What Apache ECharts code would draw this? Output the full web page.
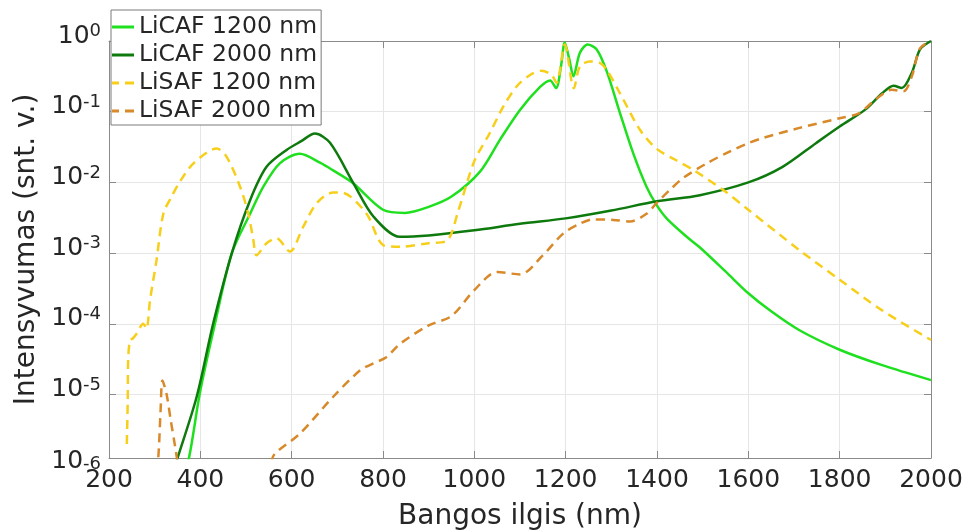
<!DOCTYPE html>
<html><head><meta charset="utf-8">
<script src="https://cdn.jsdelivr.net/npm/echarts@6/dist/echarts.min.js"></script>
<style>html,body{margin:0;padding:0;background:#fff}#c{width:968px;height:530px}</style>
</head><body><div id="c"></div>
<script>
// ---- data (wavelength nm, relative intensity) ----
const seriesNames = ['LiCAF 1200 nm', 'LiCAF 2000 nm', 'LiSAF 1200 nm', 'LiSAF 2000 nm'];

const licaf1200Wl = [360,375,399,432,469,509,538,574,618,662,690,734,800,848,900,950,1012,1056,1100,1144,1166,1179,1190,1198,1208,1217,1231,1248,1268,1290,1319,1348,1377,1399,1421,1465,1494,1550,1600,1650,1712,1800,1893,2000];
const licaf1200 = [7e-7,1.26e-6,1.05e-5,1e-4,1e-3,3.6e-3,8.7e-3,0.0186,0.0254,0.019,0.0149,0.0098,0.0041,0.0037,0.0045,0.0063,0.0141,0.040,0.106,0.224,0.277,0.216,0.45,0.955,0.55,0.316,0.676,0.891,0.759,0.372,0.0955,0.0257,0.0087,0.0048,0.0031,0.0017,0.0012,5.5e-4,2.7e-4,1.5e-4,8.1e-5,4.3e-5,2.6e-5,1.6e-5];

const licaf2000Wl = [340,350,392,428,469,509,545,589,620,651,684,735,779,837,900,1000,1100,1200,1300,1400,1494,1600,1675,1748,1800,1856,1893,1918,1936,1958,1976,2000];
const licaf2000 = [8e-7,1.26e-6,9.3e-6,1e-4,1e-3,5.6e-3,0.0166,0.0288,0.038,0.049,0.0363,0.0098,0.0033,0.0017,0.00178,0.0021,0.0026,0.0031,0.0040,0.0054,0.0066,0.010,0.0166,0.0359,0.0617,0.107,0.182,0.233,0.216,0.355,0.76,1.0];

const lisaf1200Wl = [239,241,242,246,252,260,275,282,290,304,319,337,355,385,436,457,487,505,516,523,545,567,596,625,655,691,713,764,801,837,900,940,965,1000,1034,1063,1093,1122,1147,1169,1180,1198,1218,1231,1253,1275,1290,1319,1363,1399,1440,1479,1545,1600,1712,1800,1893,2000];
const lisaf1200 = [2e-6,8e-6,3.1e-5,5.9e-5,6.2e-5,7.2e-5,1e-4,8.5e-5,2.2e-4,7.9e-4,3.6e-3,6.3e-3,0.0102,0.0186,0.0302,0.0234,0.0087,0.0036,0.00155,0.00093,0.00138,0.00162,0.00105,0.00234,0.0051,0.0072,0.0071,0.0036,0.00129,0.00123,0.00138,0.0015,0.004,0.02,0.05,0.117,0.229,0.331,0.38,0.331,0.257,0.89,0.214,0.437,0.513,0.49,0.389,0.182,0.055,0.030,0.0209,0.0151,0.0078,0.0041,0.0011,4.2e-4,1.55e-4,5.9e-5];

const lisaf2000Wl = [303,308,313,317,326,335,345,352,450,555,563,618,691,750,779,808,837,900,950,1000,1050,1100,1150,1195,1231,1260,1304,1341,1377,1399,1428,1457,1509,1560,1600,1633,1712,1800,1842,1878,1914,1940,1958,1976,2000];
const lisaf2000 = [8e-7,1.3e-6,6e-6,1.58e-5,1.02e-5,4.4e-6,1.8e-6,9e-7,null,1.1e-6,1.45e-6,2.8e-6,9.3e-6,2.2e-5,2.75e-5,3.4e-5,5.2e-5,9.5e-5,1.29e-4,3e-4,5.4e-4,5e-4,9.3e-4,1.9e-3,2.6e-3,3e-3,2.95e-3,2.8e-3,3.6e-3,5.1e-3,7.8e-3,0.0115,0.0186,0.0275,0.0359,0.0427,0.059,0.081,0.095,0.148,0.204,0.195,0.316,0.79,1.0];

const xMin = 200, xMax = 2000, xStep = 200;
const yMin = 1.265e-6, yMax = 1;

// ---- styling ----
const FONT = 'DejaVu Sans';
const TXT = '#262626';
const AX = '#8a8a8a';
const GRID = '#e6e6e6';
const colors = ['#1fe01f', '#0e7a0e', '#f7cf1a', '#d88a2a'];
const dashes = ['solid', 'solid', [9, 6], [9, 6]];
const legendIcons = ['path://M0,0H22V3H0Z', 'path://M0,0H22V3H0Z',
  'path://M0,0H7V3H0Z M13,0H22V3H13Z', 'path://M0,0H7V3H0Z M13,0H22V3H13Z'];

function pairs(xs, ys) { return xs.map((x, i) => [x, ys[i] === null ? '-' : ys[i]]); }
const dataSets = [pairs(licaf1200Wl, licaf1200), pairs(licaf2000Wl, licaf2000), pairs(lisaf1200Wl, lisaf1200), pairs(lisaf2000Wl, lisaf2000)];

const chart = echarts.init(document.getElementById('c'), null, {renderer: 'canvas'});
const axisLine = {show: true, onZero: false, lineStyle: {color: AX, width: 1}};
const axisTick = {show: true, inside: true, length: 7, lineStyle: {color: AX, width: 1}};

chart.setOption({
  animation: false,
  backgroundColor: '#fff',
  grid: {left: 109, right: 37, top: 41, bottom: 72, outerBoundsMode: 'none'},
  legend: {
    orient: 'vertical', left: 111, top: 10,
    backgroundColor: '#fff', borderColor: '#7a7a7a', borderWidth: 1,
    padding: [3, 4, 0, 1], itemGap: 0, itemWidth: 22, itemHeight: 3,
    textStyle: {fontSize: 23.5, color: TXT, fontFamily: FONT, lineHeight: 28},
    data: seriesNames.map((n, i) => ({name: n, icon: legendIcons[i]}))
  },
  xAxis: [{
    type: 'value', min: xMin, max: xMax, interval: xStep, position: 'bottom',
    axisLine, axisTick,
    axisLabel: {fontSize: 25, color: TXT, fontFamily: FONT, margin: 10, formatter: v => String(v)},
    splitLine: {show: true, lineStyle: {color: GRID, width: 1}},
    name: 'Bangos ilgis (nm)', nameLocation: 'middle', nameGap: 45,
    nameTextStyle: {fontSize: 28, color: TXT, fontFamily: FONT}
  }, {
    type: 'value', min: xMin, max: xMax, interval: xStep, position: 'top',
    axisLine, axisTick, axisLabel: {show: false}, splitLine: {show: false}
  }],
  yAxis: [{
    type: 'log', logBase: 10, min: yMin, max: yMax, position: 'left',
    axisLine, axisTick,
    axisLabel: {
      margin: 8, padding: [0, 0, 10, 0],
      formatter: v => {
        const e = Math.round(Math.log10(v));
        return v < 1e-5 * 0.99 ? '{bl|10}{sl|' + e + '}' : '{b|10}{s|' + e + '}';
      },
      rich: {
        b: {fontSize: 25, color: TXT, fontFamily: FONT, lineHeight: 27},
        s: {fontSize: 18, color: TXT, fontFamily: FONT, lineHeight: 18, verticalAlign: 'top'},
        bl: {fontSize: 25, color: TXT, fontFamily: FONT, lineHeight: 27, padding: [16, 0, 0, 0]},
        sl: {fontSize: 18, color: TXT, fontFamily: FONT, lineHeight: 18, verticalAlign: 'top', padding: [16, 0, 0, 0]}
      }
    },
    splitLine: {show: true, lineStyle: {color: GRID, width: 1}},
    name: 'Intensyvumas (snt. v.)', nameLocation: 'middle', nameGap: 60, nameRotate: 90,
    nameTextStyle: {fontSize: 28, color: TXT, fontFamily: FONT}
  }, {
    type: 'log', logBase: 10, min: yMin, max: yMax, position: 'right',
    axisLine, axisTick, axisLabel: {show: false}, splitLine: {show: false}
  }],
  series: seriesNames.map((name, i) => ({
    name, type: 'line', xAxisIndex: 0, yAxisIndex: 0,
    data: dataSets[i], symbol: 'none', showSymbol: false,
    smooth: 0.3, connectNulls: false, clip: true,
    lineStyle: {color: colors[i], width: 2.5, type: dashes[i]},
    itemStyle: {color: colors[i]}
  }))
});
</script>
</body></html>
